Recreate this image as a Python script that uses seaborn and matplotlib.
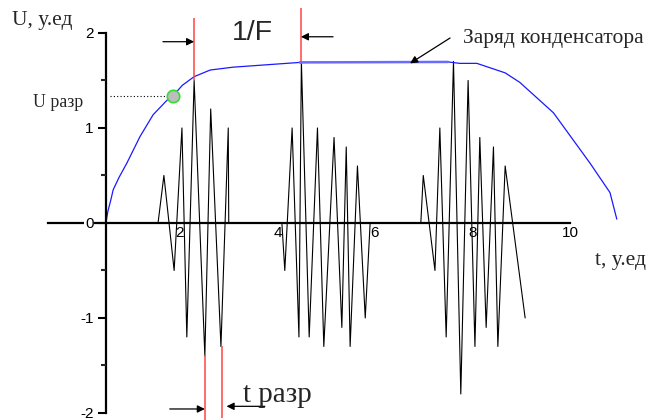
import numpy as np
import pandas as pd
import seaborn as sns
import matplotlib.pyplot as plt
from matplotlib.ticker import MultipleLocator

# signal bursts (t, U)
t_sig1 = [1.55, 1.67, 1.88, 2.04, 2.14, 2.29, 2.51, 2.63, 2.84, 2.99, 3.0]
u_sig1 = [0, 0.5, -0.5, 1.0, -1.2, 1.5, -1.4, 1.2, -1.3, 1.0, 0]
t_sig2 = [4.09, 4.15, 4.30, 4.44, 4.49, 4.65, 4.82, 4.95, 5.16, 5.32, 5.41, 5.49, 5.64, 5.80, 5.90]
u_sig2 = [0, -0.5, 1.0, -1.2, 1.7, -1.2, 1.0, -1.3, 0.9, -1.1, 0.8, -1.3, 0.6, -1.0, 0]
t_sig3 = [6.94, 6.99, 7.23, 7.33, 7.46, 7.61, 7.76, 7.91, 8.05, 8.15, 8.28, 8.43, 8.52, 8.67, 9.08]
u_sig3 = [0, 0.5, -0.5, 1.0, -1.2, 1.7, -1.8, 1.5, -1.3, 0.9, -1.1, 0.8, -1.3, 0.6, -1.0]

# capacitor charge curve
t_cap = [0.48, 0.52, 0.58, 0.63, 0.75, 0.91, 1.18, 1.45, 1.73, 1.86, 2.05, 2.29, 2.62,
         3.09, 4.46, 7.50, 7.74, 8.09, 8.67, 8.97, 9.66, 10.41, 10.82, 10.96]
u_cap = [0, 0.12, 0.24, 0.35, 0.48, 0.63, 0.91, 1.14, 1.29, 1.34, 1.45, 1.54, 1.61,
         1.64, 1.69, 1.695, 1.68, 1.68, 1.58, 1.48, 1.16, 0.63, 0.32, 0.04]

# breakdown point
t_razr = 1.86
u_razr = 1.34

# period markers (1/F) and breakdown time markers
t_period = [2.29, 4.48]
u_period_bottom = [1.5, 1.69]
t_break = [2.51, 2.855]
u_break_top = [-1.39, -1.30]

x_ticks = [2, 4, 6, 8, 10]
y_ticks = [-2, -1, 0, 1, 2]

sig = pd.DataFrame({'t': t_sig1 + t_sig2 + t_sig3, 'u': u_sig1 + u_sig2 + u_sig3})
cap = pd.DataFrame({'t': t_cap, 'u': u_cap})

sns.set_theme(style='white')
plt.rcParams['font.family'] = ['Liberation Sans', 'DejaVu Sans']

fig = plt.figure(figsize=(6.54, 4.2), dpi=100)
ax = fig.add_axes([0, 0, 1, 1])
ax.set_xlim(-1.692, 11.723)
ax.set_ylim(-2.074, 2.347)

sns.lineplot(data=sig, x='t', y='u', sort=False, estimator=None, color='black', lw=0.8, ax=ax)
sns.lineplot(data=cap, x='t', y='u', sort=False, estimator=None, color='#1a1aff', lw=0.9, ax=ax)
flat = cap[(cap.t >= 4.46) & (cap.t <= 7.5)]
sns.lineplot(data=flat, x='t', y='u', sort=False, estimator=None, color='#6b6bff', lw=1.8, ax=ax)
ax.plot([t_period[1], t_cap[14]], [u_period_bottom[1], u_cap[14]], color='#6b6bff', lw=1.8)

# dotted line to breakdown point
ax.hlines(u_razr, 0.56, t_razr, colors='black', linestyles=(0, (1, 2)), lw=0.8)
sns.scatterplot(x=[t_razr], y=[u_razr], s=80, color='#bdbdbd', edgecolor='#33dd33',
                linewidth=1.2, zorder=5, ax=ax)

# red marker lines
red = '#ff4444'
ax.vlines(t_period[0], u_period_bottom[0], 2.16, colors=red, lw=1.1)
ax.vlines(t_period[1], u_period_bottom[1], 2.26, colors=red, lw=1.1)
ax.vlines(t_break[0], -2.08, u_break_top[0], colors=red, lw=1.1)
ax.vlines(t_break[1], -2.05, u_break_top[1], colors=red, lw=1.1)

arr = dict(arrowstyle='-|>', color='black', lw=0.9, mutation_scale=11, shrinkA=0, shrinkB=0)
ax.annotate('', xy=(t_period[0], 1.908), xytext=(1.65, 1.908), arrowprops=arr)
ax.annotate('', xy=(t_period[1], 1.96), xytext=(5.14, 1.96), arrowprops=arr)
ax.annotate('', xy=(t_break[0], -1.958), xytext=(1.79, -1.958), arrowprops=arr)
ax.annotate('', xy=(t_break[1] + 0.1, -1.93), xytext=(3.74, -1.93), arrowprops=arr)
ax.annotate('', xy=(6.72, 1.68), xytext=(7.54, 1.947), arrowprops=arr)

# axes through origin
for s in ['top', 'right']:
    ax.spines[s].set_visible(False)
ax.spines['left'].set_position(('data', 0.48))
ax.spines['left'].set_bounds(-2, 2)
ax.spines['bottom'].set_position(('data', 0))
ax.spines['bottom'].set_bounds(-0.71, 10)
for s in ['left', 'bottom']:
    ax.spines[s].set_color('black')
    ax.spines[s].set_linewidth(1.6)

ax.set_xticks(x_ticks)
ax.set_yticks(y_ticks)
ax.yaxis.set_minor_locator(MultipleLocator(0.5))
ax.tick_params(axis='x', length=0, pad=2, labelsize=11, colors='black')
ax.tick_params(axis='y', which='major', direction='out', length=6, width=1.5, pad=3,
               labelsize=11, left=True, colors='black')
ax.tick_params(axis='y', which='minor', direction='out', length=3.5, width=1.5, left=True)
ax.set_xticklabels([str(v) for v in x_ticks])
ax.set_yticklabels([str(v) for v in y_ticks])
for lab in ax.get_yticklabels():
    lab.set_bbox(dict(facecolor='white', edgecolor='none', pad=0.5))
ax.yaxis.set_zorder(3)
ax.set_xlabel('')
ax.set_ylabel('')

serif = ['Liberation Serif', 'DejaVu Serif']
ax.text(-1.446, 2.084, 'U, у.ед', family=serif, fontsize=15.5, va='baseline')
ax.text(-1.015, 1.224, 'U разр', family=serif, fontsize=12.8, va='baseline')
ax.text(3.065, 1.926, '1/F', fontsize=20.5, va='baseline')
ax.text(7.805, 1.895, 'Заряд конденсатора', family=serif, fontsize=15.5, va='baseline')
ax.text(10.52, -0.442, 't, у.ед', family=serif, fontsize=15.5, va='baseline')
ax.text(3.292, -1.881, 't разр', family=serif, fontsize=21, va='baseline')

fig.savefig('out.png', dpi=100, facecolor='white')
